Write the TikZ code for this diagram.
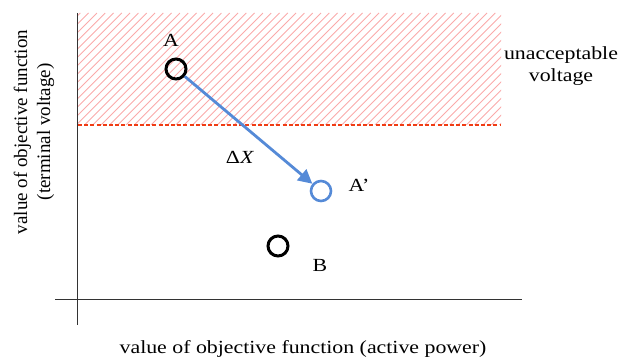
\documentclass[tikz,border=0pt]{standalone}
\usepackage{fontspec}
\setmainfont[FakeStretch=1.18]{Liberation Serif}
\newfontfamily\plainserif{Liberation Serif}
\usetikzlibrary{arrows.meta}
\definecolor{hatch}{RGB}{250,170,170}
\definecolor{dashred}{RGB}{240,60,20}
\definecolor{ablue}{RGB}{85,138,215}
\tikzset{
  lbl/.style={font=\fontsize{18.5}{22.5}\selectfont, inner sep=0pt},
  vlbl/.style={font=\plainserif\fontsize{19}{23}\selectfont, inner sep=0pt, rotate=90, align=center},
  pt/.style={circle, draw, line width=3pt, minimum size=20pt, inner sep=0pt},
  hatchline/.style={hatch, line width=0.9pt},
}
\begin{document}
\begin{tikzpicture}[x=1pt,y=-1pt]
\useasboundingbox (0,0) rectangle (620,358);
\begin{scope}
\clip (78,13) rectangle (501,125);
\foreach \i in {0,...,66} {
  \draw[hatchline] ({-40+8.3*\i},125) -- ({-40+8.3*\i+112},13);
}
\end{scope}
\draw[dashred, line width=1.6pt, dash pattern=on 4pt off 2.2pt] (78,125) -- (501,125);
\draw[line width=1pt, black!80] (77,13) -- (77,325);
\draw[line width=1pt, black!80] (55,299) -- (522,299);
\node[pt, black] (A) at (176,69) {};
\node[pt, ablue, line width=2.6pt] (A2) at (321,191) {};
\node[pt, black] (B) at (278,246) {};
\draw[ablue, line width=2.8pt, -{Triangle[length=14pt,width=14pt]}] (A) -- (A2);
\node[lbl] (lA) at (171,40) {A};
\node[lbl] (lA2) at (359,185) {A’};
\node[lbl] (lB) at (320,265) {B};
\node[lbl] (lDX) at (240,157) {Δ\textit{X}};
\node[lbl, align=center] (lU) at (561,66) {unacceptable\\voltage};
\node[vlbl] (ly) at (34,132) {value of objective function\\(terminal voltage)};
\node[lbl] (lx) at (303,349) {value of objective function (active power)};
\end{tikzpicture}
\end{document}
